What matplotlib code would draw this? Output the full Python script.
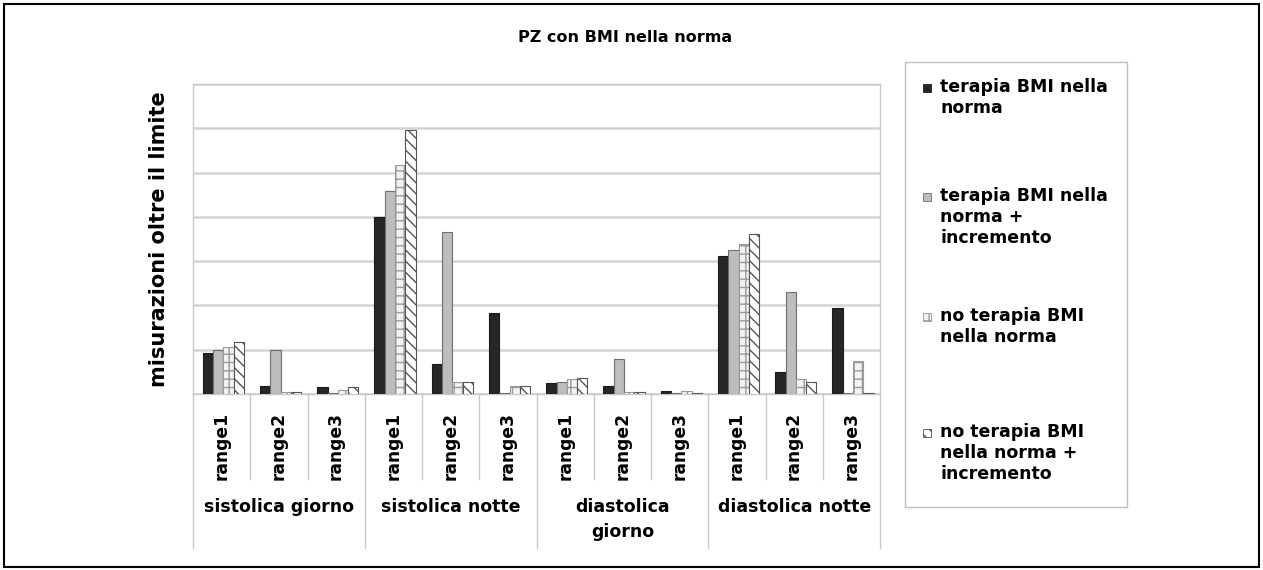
import matplotlib
matplotlib.use('Agg')
import matplotlib.pyplot as plt
from matplotlib.patches import Rectangle
import numpy as np

# dati (unita' = intervalli della griglia)
gruppi = ['sistolica giorno', 'sistolica notte', 'diastolica\ngiorno', 'diastolica notte']
range_labels = ['range1', 'range2', 'range3'] * 4

terapia = [0.93, 0.18, 0.15, 4.00, 0.67, 1.83, 0.24, 0.18, 0.07, 3.11, 0.50, 1.94]
terapia_incr = [0.99, 1.00, 0.02, 4.58, 3.65, 0.02, 0.28, 0.80, 0.02, 3.25, 2.30, 0.02]
no_terapia = [1.06, 0.05, 0.09, 5.18, 0.28, 0.18, 0.33, 0.05, 0.07, 3.39, 0.34, 0.75]
no_terapia_incr = [1.17, 0.05, 0.16, 5.97, 0.28, 0.18, 0.37, 0.05, 0.03, 3.61, 0.28, 0.02]

legenda = ['terapia BMI nella\nnorma',
           'terapia BMI nella\nnorma +\nincremento',
           'no terapia BMI\nnella norma',
           'no terapia BMI\nnella norma +\nincremento']

plt.rcParams['font.family'] = 'DejaVu Sans'
plt.rcParams['font.weight'] = 'bold'
plt.rcParams['hatch.linewidth'] = 1.0

W, H = 1263, 570
fig = plt.figure(figsize=(W / 100, H / 100), dpi=100)
ax = fig.add_axes([193 / W, (H - 394) / H, 687 / W, 310 / H])

stili = [
    dict(color='#262626', edgecolor='#1a1a1a', hatch=None),
    dict(color='#bdbdbd', edgecolor='#6e6e6e', hatch=None),
    dict(color='#f2f2f2', edgecolor='#9a9a9a', hatch='++'),
    dict(color='white', edgecolor='#555555', hatch='\\\\\\'),
]
serie = [terapia, terapia_incr, no_terapia, no_terapia_incr]

x = np.arange(len(range_labels))
w = 0.18
for i, (vals, st) in enumerate(zip(serie, stili)):
    ax.bar(x + (i - 1.5) * w + 0.03, vals, w, color=st['color'],
           edgecolor=st['edgecolor'], hatch=st['hatch'], linewidth=0.8, zorder=3)

ax.set_xlim(-0.5, len(x) - 0.5)
ax.set_ylim(0, 7)
ax.set_yticks(np.arange(0, 8))
ax.set_yticklabels([])
ax.grid(axis='y', color='#d4d4d4', linewidth=1.8, zorder=0)
ax.tick_params(axis='y', length=0)
for s in ax.spines.values():
    s.set_color('#c8c8c8')
    s.set_linewidth(1.0)

ax.set_xticks(x)
ax.set_xticklabels(range_labels, rotation=90, fontsize=12.3, va='top')
ax.tick_params(axis='x', length=0, pad=13)

ax.set_ylabel('misurazioni oltre il limite', fontsize=15, fontweight='bold', labelpad=14)

# separatori dell'asse a due livelli
tr = ax.get_xaxis_transform()
for k in range(len(x) + 1):
    y_fine = -0.497 if k % 3 == 0 else -0.274
    ax.plot([k - 0.5, k - 0.5], [0, y_fine], transform=tr, color='#c8c8c8',
            linewidth=1.0, clip_on=False)
for g, nome in enumerate(gruppi):
    ax.text(g * 3 + 1, -0.335, nome, transform=tr, ha='center', va='top',
            fontsize=12.5, linespacing=1.5)

fig.text(625 / W, 1 - 37 / H, 'PZ con BMI nella norma', ha='center', va='center',
         fontsize=11.5, fontweight='bold')

# legenda disegnata a mano
fig.add_artist(Rectangle((905 / W, 1 - 507 / H), 222 / W, 445 / H, transform=fig.transFigure,
                         facecolor='white', edgecolor='#c0c0c0', linewidth=1.0))
righe = [88, 197, 317, 433]
for st, testo, yr in zip(stili, legenda, righe):
    fig.add_artist(Rectangle((923 / W, 1 - (yr + 4) / H), 8 / W, 8 / H, transform=fig.transFigure,
                             facecolor=st['color'], edgecolor=st['edgecolor'],
                             hatch=st['hatch'], linewidth=0.6))
    fig.text(940 / W, 1 - (yr - 10) / H, testo, ha='left', va='top', fontsize=12.5)

# cornice esterna
fig.add_artist(Rectangle((4 / W, 3 / H), 1255 / W, 563 / H, transform=fig.transFigure,
                         fill=False, edgecolor='black', linewidth=1.5))

plt.savefig('out.png', dpi=100)
